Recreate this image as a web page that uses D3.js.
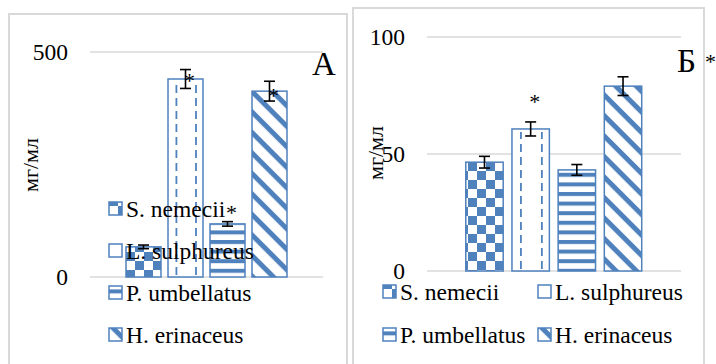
<!DOCTYPE html>
<html>
<head>
<meta charset="utf-8">
<script src="https://cdn.jsdelivr.net/npm/d3@7"></script>
</head>
<body style="margin:0; background:#fff">
<div id="chart"></div>
<script>
// data
const species = ["S. nemecii", "L. sulphureus", "P. umbellatus", "H. erinaceus"];

const valuesA = [67, 440, 118, 413];
const errorsA = [4, 21, 5, 22];
const starsA = [null, 444, 149, 411];
const ticksA = [0, 500];

const valuesB = [46.5, 60.7, 43.2, 79];
const errorsB = [2.5, 3, 2.3, 4];
const starsB = [null, 73.7, null, null];
const ticksB = [0, 50, 100];

const blue = "#4f81bd";
const gridColor = "#d9d9d9";
const serif = '"Liberation Serif"';

const svg = d3.select("#chart").append("svg")
    .attr("width", 716)
    .attr("height", 364);

const defs = svg.append("defs");

// fill patterns (the dashed one is drawn as lines on top of the bar)
const checker = defs.append("pattern").attr("id", "pat0")
    .attr("patternUnits", "userSpaceOnUse").attr("width", 18).attr("height", 18);
checker.append("rect").attr("width", 18).attr("height", 18).attr("fill", "#fff");
checker.append("rect").attr("width", 9).attr("height", 9).attr("fill", blue);
checker.append("rect").attr("x", 9).attr("y", 9).attr("width", 9).attr("height", 9).attr("fill", blue);

const plain = defs.append("pattern").attr("id", "pat1")
    .attr("patternUnits", "userSpaceOnUse").attr("width", 10).attr("height", 10);
plain.append("rect").attr("width", 10).attr("height", 10).attr("fill", "#fff");

const horiz = defs.append("pattern").attr("id", "pat2")
    .attr("patternUnits", "userSpaceOnUse").attr("width", 10).attr("height", 9.6);
horiz.append("rect").attr("width", 10).attr("height", 9.6).attr("fill", "#fff");
horiz.append("rect").attr("width", 10).attr("height", 4).attr("fill", blue);

const diag = defs.append("pattern").attr("id", "pat3")
    .attr("patternUnits", "userSpaceOnUse").attr("width", 14.5).attr("height", 14.5)
    .attr("patternTransform", "rotate(45)");
diag.append("rect").attr("width", 14.5).attr("height", 14.5).attr("fill", "#fff");
diag.append("rect").attr("width", 14.5).attr("height", 5).attr("fill", blue);

function txt(sel, size) {
    return sel.style("font-family", serif).style("font-size", size + "px").attr("fill", "#000");
}

class PanelChart {
    constructor(_config) {
        this.config = _config;
        this.InitVis();
    }

    InitVis() {
        const vis = this;
        const c = vis.config;

        vis.g = svg.append("g");

        // panel border
        vis.g.append("rect")
            .attr("x", c.box[0]).attr("y", c.box[1])
            .attr("width", c.box[2]).attr("height", c.box[3])
            .attr("fill", "none")
            .attr("stroke", gridColor)
            .attr("stroke-width", 2);

        vis.x = d3.scaleBand()
            .domain(species)
            .range(c.bandRange)
            .paddingInner(c.pad)
            .paddingOuter(c.pad / 2);

        vis.y = d3.scaleLinear()
            .domain(c.domain)
            .range(c.yRange);

        vis.RenderVis();
    }

    RenderVis() {
        const vis = this;
        const c = vis.config;
        const rows = species.map((s, i) => ({ s, i, v: c.values[i], e: c.errors[i], star: c.stars[i] }));
        const bw = vis.x.bandwidth();
        const cx = d => vis.x(d.s) + bw / 2;

        // gridlines
        vis.g.selectAll(".grid")
            .data(c.ticks)
            .join("line")
            .attr("class", "grid")
            .attr("x1", c.gridX[0]).attr("x2", c.gridX[1])
            .attr("y1", d => vis.y(d)).attr("y2", d => vis.y(d))
            .attr("stroke", gridColor)
            .attr("stroke-width", 1.5);

        // tick labels
        txt(vis.g.selectAll(".tick-label")
            .data(c.ticks)
            .join("text")
            .attr("class", "tick-label")
            .attr("x", c.tickX)
            .attr("y", d => vis.y(d) + 7.8)
            .attr("text-anchor", "end")
            .text(d => d), 23.5);

        // y axis title
        txt(vis.g.append("text")
            .attr("transform", `translate(${c.titlePos[0]},${c.titlePos[1]}) rotate(-90)`)
            .attr("text-anchor", "middle")
            .text("мг/мл"), 22);

        // bars
        vis.g.selectAll(".bar")
            .data(rows)
            .join("rect")
            .attr("class", "bar")
            .attr("x", d => vis.x(d.s))
            .attr("width", bw)
            .attr("y", d => vis.y(d.v))
            .attr("height", d => vis.y(0) - vis.y(d.v))
            .attr("fill", d => `url(#pat${d.i})`)
            .attr("stroke", blue)
            .attr("stroke-width", 1.5);

        // dashed vertical lines inside the L. sulphureus bar
        const dashed = rows.filter(d => d.i === 1);
        [0.24, 0.8].forEach(f => {
            vis.g.selectAll(null)
                .data(dashed)
                .join("line")
                .attr("x1", d => vis.x(d.s) + bw * f).attr("x2", d => vis.x(d.s) + bw * f)
                .attr("y1", d => vis.y(0) - 2).attr("y2", d => vis.y(d.v) + 3)
                .attr("stroke", blue)
                .attr("stroke-width", 1.8)
                .attr("stroke-dasharray", "8,5");
        });

        // error bars
        const err = vis.g.selectAll(".err")
            .data(rows)
            .join("g")
            .attr("class", "err")
            .attr("stroke", "#000")
            .attr("stroke-width", 1.6);
        err.append("line")
            .attr("x1", cx).attr("x2", cx)
            .attr("y1", d => vis.y(d.v - d.e)).attr("y2", d => vis.y(d.v + d.e));
        err.append("line")
            .attr("x1", d => cx(d) - 5.5).attr("x2", d => cx(d) + 5.5)
            .attr("y1", d => vis.y(d.v + d.e)).attr("y2", d => vis.y(d.v + d.e));
        err.append("line")
            .attr("x1", d => cx(d) - 5.5).attr("x2", d => cx(d) + 5.5)
            .attr("y1", d => vis.y(d.v - d.e)).attr("y2", d => vis.y(d.v - d.e));

        // significance stars
        txt(vis.g.selectAll(".star")
            .data(rows.filter(d => d.star !== null))
            .join("text")
            .attr("class", "star")
            .attr("x", d => cx(d) + 4)
            .attr("y", d => vis.y(d.star) + 10.5)
            .attr("text-anchor", "middle")
            .text("*"), 22);

        // panel letter
        txt(vis.g.append("text")
            .attr("x", c.letterPos[0]).attr("y", c.letterPos[1])
            .text(c.letter), 33);

        // legend
        const leg = vis.g.selectAll(".legend")
            .data(rows)
            .join("g")
            .attr("class", "legend")
            .attr("transform", d => `translate(${c.legendPos(d.i).join(",")})`);
        leg.append("rect")
            .attr("x", 0).attr("y", -13)
            .attr("width", 13).attr("height", 13)
            .attr("fill", d => `url(#pat${d.i})`)
            .attr("stroke", blue)
            .attr("stroke-width", 1.5);
        txt(leg.append("text")
            .attr("x", 17).attr("y", 1.5)
            .text(d => d.s), 23.5);
    }
}

new PanelChart({
    box: [9, 14, 338, 380],
    values: valuesA, errors: errorsA, stars: starsA, ticks: ticksA,
    domain: [0, 500], yRange: [277, 52],
    bandRange: [122.5, 290.5], pad: 0.167,
    gridX: [90, 323], tickX: 68,
    titlePos: [38, 165],
    letter: "A", letterPos: [312, 75],
    legendPos: i => [109, 215 + i * 42]
});

const partB = new PanelChart({
    box: [353, 8, 351, 380],
    values: valuesB, errors: errorsB, stars: starsB, ticks: ticksB,
    domain: [0, 100], yRange: [271, 37],
    bandRange: [461.4, 646.1], pad: 0.19,
    gridX: [427, 681], tickX: 405,
    titlePos: [383, 153],
    letter: "Б", letterPos: [677, 72],
    legendPos: i => [383 + (i % 2) * 155, 298 + Math.floor(i / 2) * 43]
});

// asterisk next to the Б letter
txt(partB.g.append("text")
    .attr("x", 705).attr("y", 69)
    .text("*"), 22);
</script>
</body>
</html>
